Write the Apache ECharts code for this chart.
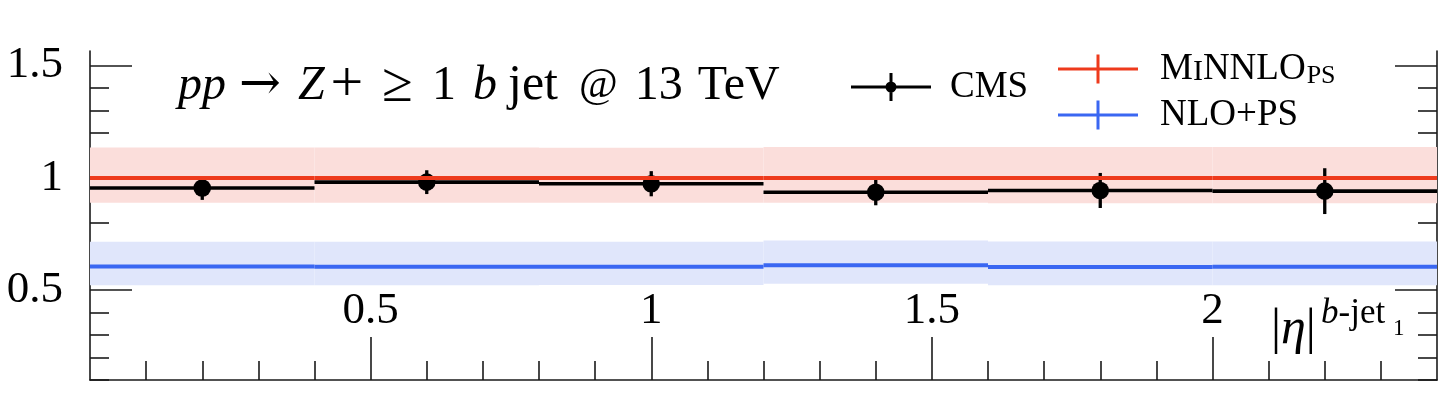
<!DOCTYPE html>
<html><head><meta charset="utf-8">
<script src="https://cdn.jsdelivr.net/npm/echarts@6/dist/echarts.min.js"></script>
<style>html,body{margin:0;padding:0;background:#fff}#c{width:1447px;height:396px}</style>
</head><body><div id="c"></div>
<script>
// ---- data ----
const binEdges    = [0, 0.4, 0.8, 1.2, 1.6, 2.0, 2.4];
const cmsValue    = [0.955, 0.981, 0.974, 0.936, 0.944, 0.941];
const cmsErr      = [0.053, 0.053, 0.056, 0.058, 0.078, 0.102];
const minnloValue = [1.0, 1.0, 1.0, 1.0, 1.0, 1.0];
const minnloLow   = [0.889, 0.889, 0.889, 0.889, 0.887, 0.887];
const minnloHigh  = [1.135, 1.135, 1.134, 1.137, 1.138, 1.138];
const nloValue    = [0.605, 0.604, 0.604, 0.611, 0.603, 0.604];
const nloLow      = [0.522, 0.522, 0.523, 0.529, 0.522, 0.522];
const nloHigh     = [0.716, 0.716, 0.716, 0.721, 0.717, 0.717];
const xMajorTicks = [0.5, 1, 1.5, 2];
const xMinorTicks = [0.1,0.2,0.3,0.4,0.6,0.7,0.8,0.9,1.1,1.2,1.3,1.4,1.6,1.7,1.8,1.9,2.1,2.2,2.3];
const yMajorTicks = [0.5, 1, 1.5];
const yMinorTicks = [0.1,0.2,0.3,0.4,0.6,0.7,0.8,0.9,1.1,1.2,1.3,1.4];

const SERIF = "'Liberation Serif', 'DejaVu Serif', serif";
const RED = '#ee3a1c', BLUE = '#3a67f2', RED_BAND = '#fbdedb', BLUE_BAND = '#e0e6fb';
const AX = {color: '#1a1a1a', width: 1.6};

const bins = (a, b, c) => binEdges.slice(0, -1).map((e, i) => [e, binEdges[i + 1], a[i], b ? b[i] : 0, c ? c[i] : 0]);

function bandRenderer(fill) {
  return function (params, api) {
    const p0 = api.coord([api.value(0), api.value(3)]);
    const p1 = api.coord([api.value(1), api.value(4)]);
    return {type: 'rect', shape: {x: p0[0], y: p0[1], width: p1[0] - p0[0], height: p1[1] - p0[1]}, style: {fill}};
  };
}
function lineRenderer(stroke, w) {
  return function (params, api) {
    const p0 = api.coord([api.value(0), api.value(2)]);
    const p1 = api.coord([api.value(1), api.value(2)]);
    return {type: 'line', shape: {x1: p0[0], y1: p0[1], x2: p1[0], y2: p1[1]}, style: {stroke, lineWidth: w}};
  };
}
function cmsRenderer(params, api) {
  const x0 = api.value(0), x1 = api.value(1), v = api.value(2), e = api.value(3);
  const xc = (x0 + x1) / 2;
  const a = api.coord([x0, v]), b = api.coord([x1, v]);
  const c = api.coord([xc, v]), t = api.coord([xc, v + e]), d = api.coord([xc, v - e]);
  return {type: 'group', children: [
    {type: 'line', shape: {x1: a[0], y1: a[1], x2: b[0], y2: b[1]}, style: {stroke: '#000', lineWidth: 3.6}},
    {type: 'line', shape: {x1: t[0], y1: t[1], x2: d[0], y2: d[1]}, style: {stroke: '#000', lineWidth: 3.3}},
    {type: 'circle', shape: {cx: c[0], cy: c[1], r: 8.8}, style: {fill: '#000'}}
  ]};
}

const crossIcon = 'path://M0,13 H80 V16 H0 Z M38.5,0 H41.5 V29 H38.5 Z';
const cmsIcon = 'path://M0,12.5 H80 V15.5 H0 Z M38.5,0 H41.5 V28 H38.5 Z M34.5,14 A5.5,5.5 0 1 1 45.5,14 A5.5,5.5 0 1 1 34.5,14 Z';

const yBase = {type: 'value', min: 0.1, max: 1.565, splitLine: {show: false}};
const xBase = {type: 'value', min: 0, max: 2.4, splitLine: {show: false}};

const T = (size, italic, padLeft, family) => ({fontFamily: family || SERIF, fontSize: size, fontStyle: italic ? 'italic' : 'normal',
  fill: '#000', lineHeight: 60, padding: [0, 0, 0, padLeft]});

const chart = echarts.init(document.getElementById('c'), null, {renderer: 'canvas'});
chart.setOption({
  animation: false,
  backgroundColor: '#fff',
  grid: {left: 90, right: 10, top: 51, bottom: 16},
  xAxis: [
    Object.assign({}, xBase, {position: 'bottom',
      axisLine: {show: true, onZero: false, lineStyle: AX},
      axisTick: {show: true, inside: true, length: 19, lineStyle: AX, customValues: xMinorTicks},
      axisLabel: {show: false}}),
    Object.assign({}, xBase, {position: 'bottom',
      axisLine: {show: false, onZero: false},
      axisTick: {show: true, inside: true, length: 43, lineStyle: AX, customValues: xMajorTicks},
      axisLabel: {show: true, inside: true, margin: 46, customValues: xMajorTicks, fontFamily: SERIF, fontSize: 45, color: '#000'}})
  ],
  yAxis: [
    Object.assign({}, yBase, {position: 'left',
      axisLine: {show: true, onZero: false, lineStyle: AX},
      axisTick: {show: true, inside: true, length: 19, lineStyle: AX, customValues: yMinorTicks},
      axisLabel: {show: false}}),
    Object.assign({}, yBase, {position: 'left',
      axisLine: {show: false, onZero: false},
      axisTick: {show: true, inside: true, length: 42, lineStyle: AX, customValues: yMajorTicks},
      axisLabel: {show: true, margin: 27, customValues: yMajorTicks, fontFamily: SERIF, fontSize: 45, color: '#000'}}),
    Object.assign({}, yBase, {position: 'right',
      axisLine: {show: true, onZero: false, lineStyle: AX},
      axisTick: {show: true, inside: true, length: 19, lineStyle: AX, customValues: yMinorTicks},
      axisLabel: {show: false}}),
    Object.assign({}, yBase, {position: 'right',
      axisLine: {show: false, onZero: false},
      axisTick: {show: true, inside: true, length: 42, lineStyle: AX, customValues: yMajorTicks},
      axisLabel: {show: false}})
  ],
  legend: [
    {data: [{name: 'CMS', icon: cmsIcon, itemStyle: {color: '#000'}}], selectedMode: false,
     left: 851, top: 67, padding: 0, itemWidth: 80, itemHeight: 28,
     textStyle: {fontFamily: SERIF, fontSize: 37, color: '#000', lineHeight: 40, padding: [0, 0, 0, 14]}},
    {data: [{name: 'MiNNLO', icon: crossIcon, itemStyle: {color: RED}}, {name: 'NLO+PS', icon: crossIcon, itemStyle: {color: BLUE}}],
     selectedMode: false, orient: 'vertical', left: 1058, top: 49, padding: 0, itemGap: 6, itemWidth: 80, itemHeight: 29,
     formatter: n => n === 'MiNNLO' ? '{c|M}{s|I}{c|NNLO}{p|PS}' : '{c|' + n + '}',
     textStyle: {fontFamily: SERIF, fontSize: 37, color: '#000', lineHeight: 40, padding: [0, 0, 0, 17],
       rich: {
         c: {fontFamily: SERIF, fontSize: 37, color: '#000', lineHeight: 40},
         s: {fontFamily: SERIF, fontSize: 30, color: '#000', lineHeight: 40, verticalAlign: 'bottom', padding: [0, 0, 2, 0]},
         p: {fontFamily: SERIF, fontSize: 26, color: '#000', lineHeight: 40, verticalAlign: 'bottom', padding: [0, 0, 0, 1]}
       }}}
  ],
  graphic: [
    {type: 'text', x: 178, y: 86, z: 10, style: {
      text: '{a|pp}{b|→}{c|Z}{d|+}{e|≥}{f|1}{g|b}{h|jet}{k|@}{l|13}{m|TeV}', verticalAlign: 'middle', align: 'left',
      rich: {
        a: T(48, true, 0), b: T(50, false, 13, "'DejaVu Serif', 'DejaVu Sans', serif"), c: T(48, true, 17), d: T(58, false, 6), e: T(56, false, 19),
        f: T(48, false, 19), g: T(48, true, 17), h: T(50, false, 11), k: T(42, false, 21), l: T(48, false, 17),
        m: T(48, false, 15)
      }}},
    {type: 'text', x: 1271, y: 330, z: 10, style: {
      text: '{n||}{i|η}{n||}', verticalAlign: 'middle', align: 'left',
      rich: {
        i: {fontFamily: SERIF, fontSize: 50, fontStyle: 'italic', fill: '#000'},
        n: {fontFamily: SERIF, fontSize: 50, fill: '#000'}
      }}},
    {type: 'text', x: 1321, y: 314, z: 10, style: {
      text: '{i|b}{n|-jet}', verticalAlign: 'middle', align: 'left',
      rich: {
        i: {fontFamily: SERIF, fontSize: 35, fontStyle: 'italic', fill: '#000'},
        n: {fontFamily: SERIF, fontSize: 35, fill: '#000'}
      }}},
    {type: 'text', x: 1393, y: 329, z: 10, style: {text: '1', fontFamily: SERIF, fontSize: 23, fill: '#000', verticalAlign: 'middle', align: 'left'}}
  ],
  series: [
    {name: 'MiNNLO band', type: 'custom', z: 1, xAxisIndex: 0, yAxisIndex: 0, silent: true,
     renderItem: bandRenderer(RED_BAND), data: bins(minnloValue, minnloHigh, minnloLow)},
    {name: 'NLO+PS band', type: 'custom', z: 1, xAxisIndex: 0, yAxisIndex: 0, silent: true,
     renderItem: bandRenderer(BLUE_BAND), data: bins(nloValue, nloHigh, nloLow)},
    {name: 'CMS', type: 'custom', z: 2, xAxisIndex: 0, yAxisIndex: 0, itemStyle: {color: '#000'},
     renderItem: cmsRenderer, data: bins(cmsValue, cmsErr)},
    {name: 'MiNNLO', type: 'custom', z: 3, xAxisIndex: 0, yAxisIndex: 0, itemStyle: {color: RED},
     renderItem: lineRenderer(RED, 4), data: bins(minnloValue)},
    {name: 'NLO+PS', type: 'custom', z: 3, xAxisIndex: 0, yAxisIndex: 0, itemStyle: {color: BLUE},
     renderItem: lineRenderer(BLUE, 4), data: bins(nloValue)}
  ]
});
</script></body></html>
